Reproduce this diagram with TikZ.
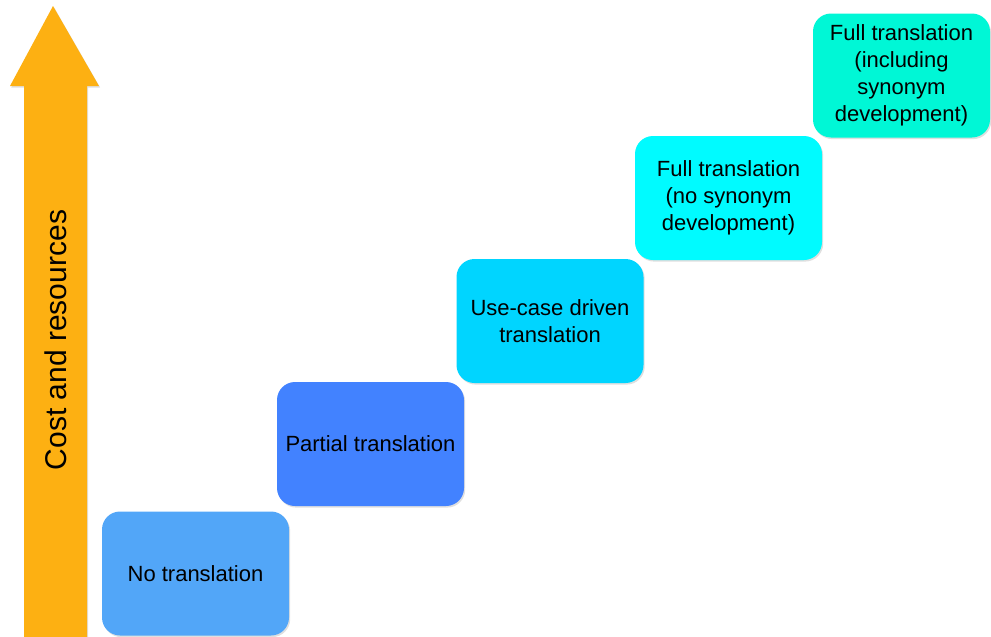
\documentclass[tikz,border=0pt]{standalone}
\usepackage{fontspec}
\setmainfont{Liberation Sans}
\usetikzlibrary{shadows}
\definecolor{arroworange}{HTML}{FDB012}
\definecolor{stepone}{HTML}{52A6F8}
\definecolor{steptwo}{HTML}{4282FF}
\definecolor{stepthree}{HTML}{00D5FF}
\definecolor{stepfour}{HTML}{00FBFF}
\definecolor{stepfive}{HTML}{00F7D6}
\tikzset{
  stepbox/.style={rounded corners=9pt, minimum width=93.5pt, minimum height=62pt,
    align=center, inner sep=2pt, font=\fontsize{11}{13.5}\selectfont,
    drop shadow={opacity=0.25, shadow xshift=0.6pt, shadow yshift=-0.8pt}},
  axislabel/.style={rotate=90, font=\fontsize{15}{18}\selectfont}
}
\begin{document}
\begin{tikzpicture}[x=0.5pt, y=-0.5pt]
  \useasboundingbox (0,0) rectangle (991,637);
  \fill[arroworange, drop shadow={opacity=0.25, shadow xshift=0.6pt, shadow yshift=-0.8pt}]
    (53,6) -- (99,86) -- (87,86) -- (87,637) -- (24,637) -- (24,86) -- (10,86) -- cycle;
  \node[axislabel] (cost) at (56,340) {Cost and resources};
  \draw[draw=none]
    (195.5,573.5) node[stepbox, fill=stepone] (none) {No translation}
    (370.5,444) node[stepbox, fill=steptwo] (partial) {Partial translation}
    (550,321) node[stepbox, fill=stepthree] (usecase) {Use-case driven\\translation}
    (728.5,198) node[stepbox, fill=stepfour] (fullno) {Full translation\\(no synonym\\development)}
    (901.5,75.5) node[stepbox, fill=stepfive, minimum width=88.5pt] (fullsyn) {Full translation\\(including\\synonym\\development)};
\end{tikzpicture}
\end{document}
